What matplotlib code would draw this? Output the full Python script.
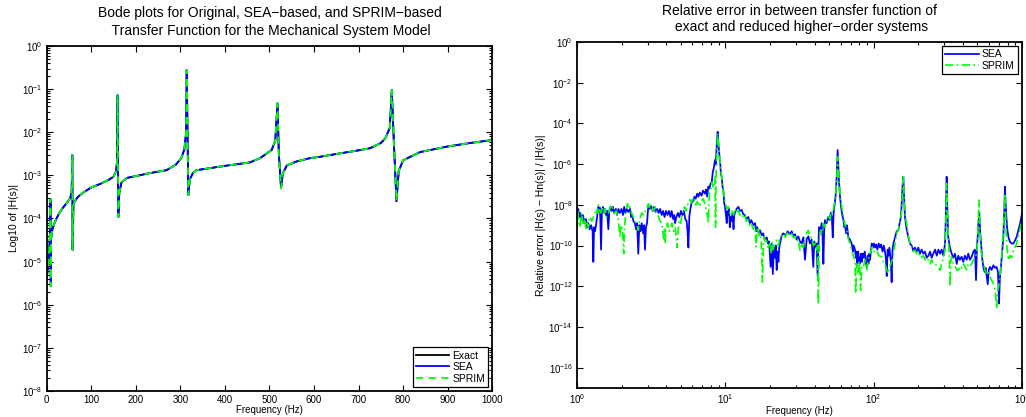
import matplotlib
matplotlib.use('Agg')
import matplotlib.pyplot as plt
import matplotlib.ticker as mticker
import numpy as np

plt.rcParams['font.family'] = ['Liberation Sans', 'DejaVu Sans']
plt.rcParams['mathtext.fontset'] = 'custom'
plt.rcParams['mathtext.rm'] = 'Liberation Sans'
plt.rcParams['mathtext.it'] = 'Liberation Sans:italic'

# ---- left panel: |H(s)| vs frequency (values given as log10 of magnitude)
bode_freq_hz = [0, 3, 6, 7.5, 8.5, 9.2, 10, 13, 17, 22,
                28, 35, 42, 48, 53, 56, 57.5, 58.3, 60, 63,
                70, 82, 100, 120, 140, 150, 156, 158, 159.3, 160.7,
                163, 168, 180, 194, 230, 269, 290, 302, 309, 313,
                314.3, 317.8, 321, 328, 336, 400, 456, 479, 505, 513,
                518, 521, 526, 530, 539, 560, 591, 613, 658, 700,
                726, 750, 760, 770, 774.5, 779, 785, 790, 800, 838,
                900, 950, 1000]
exact_log10 = [-5.4, -5.1, -4.7, -4.3, -3.55, -5.57, -4.45, -4.25, -4.12, -4.0,
               -3.88, -3.77, -3.68, -3.6, -3.52, -3.4, -2.53, -4.73, -3.69, -3.6,
               -3.5, -3.4, -3.28, -3.2, -3.1, -3.03, -2.9, -2.65, -1.14, -3.97,
               -3.4, -3.16, -3.06, -3.03, -2.95, -2.88, -2.75, -2.6, -2.4, -2.0,
               -0.56, -3.46, -3.1, -2.95, -2.88, -2.78, -2.7, -2.6, -2.41, -2.2,
               -1.33, -2.5, -3.3, -2.95, -2.77, -2.68, -2.6, -2.57, -2.49, -2.42,
               -2.37, -2.25, -2.14, -1.9, -1.02, -2.2, -3.6, -2.9, -2.65, -2.46,
               -2.33, -2.25, -2.18]
# reduced models overlay the exact curve at this scale
sea_log10 = list(exact_log10)
sprim_log10 = list(exact_log10)

# ---- right panel: relative error (log10 of frequency, log10 of error)
sea_err_logf = [
    0.000, 0.008, 0.015, 0.022, 0.031, 0.040, 0.050, 0.060, 0.070, 0.076,
    0.085, 0.095, 0.105, 0.110, 0.115, 0.121, 0.128, 0.135, 0.144, 0.150,
    0.155, 0.162, 0.168, 0.175, 0.182, 0.189, 0.196, 0.203, 0.211, 0.218,
    0.226, 0.234, 0.242, 0.250, 0.262, 0.270, 0.279, 0.288, 0.300, 0.310,
    0.318, 0.326, 0.334, 0.345, 0.357, 0.365, 0.373, 0.380, 0.390, 0.398,
    0.405, 0.413, 0.420, 0.428, 0.436, 0.445, 0.452, 0.458, 0.465, 0.472,
    0.481, 0.490, 0.500, 0.510, 0.520, 0.530, 0.540, 0.550, 0.560, 0.571,
    0.580, 0.590, 0.600, 0.610, 0.620, 0.630, 0.638, 0.648, 0.655, 0.661,
    0.670, 0.680, 0.690, 0.700, 0.710, 0.720, 0.730, 0.739, 0.745, 0.751,
    0.757, 0.762, 0.772, 0.784, 0.792, 0.800, 0.810, 0.818, 0.828, 0.840,
    0.850, 0.863, 0.870, 0.878, 0.885, 0.893, 0.900, 0.908, 0.915, 0.922,
    0.930, 0.935, 0.940, 0.944, 0.948, 0.952, 0.957, 0.962, 0.966, 0.970,
    0.975, 0.981, 0.987, 0.992, 0.998, 1.004, 1.009, 1.015, 1.020, 1.025,
    1.030, 1.036, 1.043, 1.049, 1.055, 1.060, 1.065, 1.075, 1.088, 1.098,
    1.110, 1.120, 1.130, 1.142, 1.155, 1.165, 1.175, 1.188, 1.200, 1.208,
    1.215, 1.225, 1.234, 1.245, 1.255, 1.265, 1.279, 1.288, 1.295, 1.305,
    1.312, 1.320, 1.327, 1.335, 1.340, 1.346, 1.352, 1.358, 1.363, 1.369,
    1.380, 1.391, 1.405, 1.420, 1.433, 1.447, 1.458, 1.470, 1.480, 1.492,
    1.503, 1.515, 1.525, 1.537, 1.548, 1.560, 1.570, 1.582, 1.593, 1.600,
    1.610, 1.616, 1.622, 1.631, 1.640, 1.649, 1.655, 1.661, 1.667, 1.672,
    1.683, 1.694, 1.703, 1.710, 1.718, 1.724, 1.730, 1.735, 1.743, 1.751,
    1.757, 1.762, 1.766, 1.773, 1.780, 1.788, 1.796, 1.802, 1.807, 1.814,
    1.820, 1.829, 1.840, 1.852, 1.860, 1.865, 1.874, 1.880, 1.885, 1.890,
    1.895, 1.902, 1.908, 1.914, 1.920, 1.925, 1.930, 1.940, 1.947, 1.953,
    1.960, 1.965, 1.970, 1.975, 1.981, 1.987, 1.995, 2.003, 2.009, 2.017,
    2.025, 2.034, 2.043, 2.050, 2.060, 2.068, 2.076, 2.082, 2.088, 2.094,
    2.100, 2.106, 2.110, 2.116, 2.121, 2.127, 2.133, 2.144, 2.155, 2.166,
    2.175, 2.184, 2.190, 2.196, 2.200, 2.205, 2.211, 2.220, 2.234, 2.245,
    2.256, 2.267, 2.278, 2.290, 2.301, 2.312, 2.323, 2.335, 2.346, 2.357,
    2.369, 2.380, 2.391, 2.402, 2.414, 2.425, 2.436, 2.447, 2.458, 2.470,
    2.481, 2.487, 2.492, 2.497, 2.503, 2.514, 2.526, 2.537, 2.548, 2.560,
    2.570, 2.581, 2.593, 2.604, 2.615, 2.627, 2.638, 2.649, 2.661, 2.672,
    2.683, 2.690, 2.696, 2.701, 2.707, 2.712, 2.718, 2.724, 2.731, 2.739,
    2.748, 2.755, 2.762, 2.769, 2.776, 2.784, 2.795, 2.807, 2.818, 2.829,
    2.838, 2.845, 2.851, 2.858, 2.866, 2.874, 2.880, 2.885, 2.890, 2.899,
    2.909, 2.919, 2.930, 2.942, 2.953, 2.964, 2.975, 2.987, 3.000]
sea_err_log10 = [
    -8.5, -8.2, -8.6, -8.4, -8.7, -8.5, -8.9, -8.7, -9.1, -8.9,
    -9.2, -9.0, -9.3, -10.8, -9.1, -9.3, -9.0, -8.6, -8.1, -8.3,
    -8.15, -10.2, -8.3, -8.1, -8.4, -8.2, -8.5, -8.3, -9.2, -8.3,
    -8.1, -8.3, -8.1, -8.4, -8.2, -8.5, -8.2, -8.4, -8.2, -8.5,
    -8.1, -8.4, -8.2, -8.35, -8.2, -8.6, -8.5, -8.8, -8.9, -9.2,
    -8.9, -10.4, -9.0, -9.3, -8.9, -9.4, -9.0, -10.2, -9.1, -8.9,
    -8.0, -8.2, -8.05, -8.3, -8.1, -8.35, -8.2, -8.4, -8.2, -8.5,
    -8.3, -8.6, -8.3, -8.5, -8.3, -8.6, -8.3, -8.7, -8.5, -8.9,
    -8.6, -8.4, -8.6, -8.3, -8.5, -8.3, -8.7, -8.8, -9.3, -10.1,
    -8.6, -8.3, -7.9, -7.8, -7.6, -7.7, -7.45, -7.6, -7.4, -7.55,
    -7.3, -7.45, -7.25, -7.6, -7.1, -7.2, -6.95, -6.9, -6.4, -6.2,
    -5.8, -6.0, -5.3, -4.8, -4.41, -4.9, -5.3, -5.8, -6.0, -6.5,
    -6.6, -7.1, -7.3, -7.9, -8.1, -8.5, -8.9, -8.3, -8.5, -8.2,
    -9.1, -8.6, -8.8, -8.4, -9.2, -8.5, -8.4, -8.2, -8.1, -8.3,
    -8.25, -8.45, -8.5, -8.7, -8.6, -8.9, -8.75, -9.0, -8.9, -9.3,
    -9.1, -9.4, -9.25, -9.5, -9.4, -9.7, -9.6, -9.9, -9.8, -11.05,
    -9.9, -11.4, -10.1, -10.6, -10.0, -11.2, -10.3, -10.8, -10.1, -9.9,
    -9.5, -9.4, -9.5, -9.3, -9.45, -9.3, -9.5, -9.45, -9.7, -9.55,
    -9.8, -9.9, -9.6, -10.7, -9.7, -9.55, -9.9, -9.7, -11.05, -9.8,
    -10.1, -9.9, -11.5, -9.1, -9.3, -8.9, -9.5, -10.9, -9.0, -8.75,
    -8.9, -8.6, -8.75, -8.4, -8.6, -9.6, -8.4, -8.1, -7.6, -6.6,
    -5.31, -6.2, -6.8, -7.6, -8.1, -8.5, -8.75, -9.1, -9.0, -9.4,
    -9.0, -9.6, -9.7, -9.9, -10.3, -10.0, -10.2, -10.6, -10.3, -10.9,
    -10.3, -10.7, -10.9, -10.4, -10.8, -10.4, -10.6, -10.3, -10.8, -11.05,
    -10.5, -10.9, -10.4, -10.7, -10.3, -9.9, -10.1, -9.9, -10.1, -9.95,
    -10.2, -9.9, -10.1, -9.95, -10.3, -10.0, -10.3, -10.6, -11.5, -10.2,
    -10.5, -10.1, -10.4, -10.8, -11.8, -10.2, -9.9, -9.6, -9.3, -9.25,
    -8.9, -8.6, -7.8, -6.9, -6.62, -7.6, -8.6, -9.1, -9.6, -9.9,
    -10.0, -10.25, -10.1, -10.3, -10.1, -10.4, -10.2, -10.4, -10.3, -10.6,
    -10.5, -10.3, -10.6, -10.4, -10.2, -10.5, -10.2, -10.4, -10.2, -10.5,
    -9.9, -8.5, -6.62, -8.3, -9.6, -10.1, -10.4, -10.6, -10.4, -10.9,
    -10.5, -10.7, -10.55, -10.8, -10.5, -10.7, -10.4, -10.7, -10.55, -10.3,
    -10.2, -11.7, -10.1, -9.6, -8.8, -8.4, -9.3, -9.9, -10.6, -11.05,
    -11.3, -11.1, -11.5, -11.9, -11.2, -11.05, -11.2, -10.97, -11.1, -11.05,
    -11.3, -12.85, -11.6, -11.05, -10.3, -9.6, -8.5, -7.11, -8.0, -9.1,
    -9.6, -9.82, -9.9, -9.9, -9.75, -9.57, -9.25, -8.92, -8.43]

sprim_err_logf = [
    0.000, 0.006, 0.012, 0.020, 0.026, 0.031, 0.038, 0.045, 0.052, 0.060,
    0.068, 0.076, 0.083, 0.090, 0.100, 0.110, 0.120, 0.130, 0.137, 0.144,
    0.152, 0.160, 0.170, 0.180, 0.189, 0.198, 0.210, 0.220, 0.234, 0.245,
    0.255, 0.265, 0.279, 0.285, 0.290, 0.295, 0.300, 0.308, 0.315, 0.320,
    0.324, 0.332, 0.340, 0.348, 0.357, 0.368, 0.380, 0.390, 0.400, 0.407,
    0.413, 0.420, 0.428, 0.436, 0.448, 0.460, 0.470, 0.481, 0.490, 0.500,
    0.513, 0.526, 0.538, 0.550, 0.560, 0.571, 0.578, 0.585, 0.590, 0.594,
    0.600, 0.610, 0.620, 0.630, 0.640, 0.650, 0.661, 0.668, 0.675, 0.682,
    0.690, 0.698, 0.706, 0.715, 0.725, 0.735, 0.745, 0.755, 0.762, 0.772,
    0.780, 0.790, 0.800, 0.810, 0.818, 0.828, 0.838, 0.850, 0.860, 0.870,
    0.878, 0.885, 0.890, 0.895, 0.902, 0.910, 0.918, 0.925, 0.930, 0.934,
    0.938, 0.942, 0.948, 0.953, 0.957, 0.962, 0.966, 0.970, 0.975, 0.981,
    0.987, 0.993, 1.000, 1.010, 1.020, 1.030, 1.043, 1.055, 1.065, 1.076,
    1.088, 1.098, 1.110, 1.120, 1.130, 1.142, 1.155, 1.165, 1.175, 1.188,
    1.200, 1.207, 1.214, 1.220, 1.228, 1.234, 1.242, 1.250, 1.256, 1.262,
    1.270, 1.279, 1.290, 1.300, 1.306, 1.312, 1.322, 1.332, 1.346, 1.358,
    1.369, 1.380, 1.391, 1.405, 1.420, 1.433, 1.447, 1.458, 1.470, 1.480,
    1.492, 1.503, 1.515, 1.525, 1.537, 1.548, 1.560, 1.570, 1.582, 1.593,
    1.605, 1.615, 1.622, 1.627, 1.633, 1.642, 1.650, 1.661, 1.672, 1.683,
    1.694, 1.705, 1.715, 1.725, 1.735, 1.743, 1.750, 1.757, 1.763, 1.773,
    1.785, 1.796, 1.807, 1.818, 1.830, 1.841, 1.852, 1.863, 1.874, 1.879,
    1.885, 1.891, 1.897, 1.904, 1.912, 1.920, 1.930, 1.942, 1.953, 1.964,
    1.975, 1.991, 2.003, 2.020, 2.035, 2.054, 2.065, 2.076, 2.088, 2.099,
    2.110, 2.121, 2.132, 2.144, 2.155, 2.166, 2.175, 2.184, 2.190, 2.196,
    2.200, 2.206, 2.212, 2.222, 2.234, 2.245, 2.256, 2.267, 2.279, 2.290,
    2.301, 2.312, 2.324, 2.335, 2.346, 2.357, 2.369, 2.380, 2.391, 2.402,
    2.414, 2.425, 2.436, 2.447, 2.458, 2.470, 2.481, 2.487, 2.492, 2.497,
    2.503, 2.509, 2.515, 2.520, 2.526, 2.537, 2.548, 2.560, 2.571, 2.582,
    2.593, 2.604, 2.616, 2.627, 2.638, 2.649, 2.661, 2.672, 2.683, 2.694,
    2.700, 2.705, 2.710, 2.716, 2.724, 2.737, 2.751, 2.762, 2.773, 2.784,
    2.795, 2.807, 2.818, 2.824, 2.829, 2.835, 2.845, 2.852, 2.863, 2.872,
    2.880, 2.885, 2.890, 2.896, 2.908, 2.918, 2.930, 2.942, 2.953, 2.964,
    2.975, 2.987, 3.000]
sprim_err_log10 = [
    -9.1, -8.3, -8.9, -9.1, -8.6, -8.4, -8.8, -9.0, -8.7, -9.25,
    -8.9, -9.1, -8.7, -8.6, -8.8, -8.6, -8.4, -8.2, -8.4, -8.0,
    -8.3, -8.4, -8.1, -8.4, -8.2, -8.6, -8.5, -8.2, -8.0, -8.3,
    -8.4, -8.3, -8.75, -9.3, -9.6, -9.1, -9.0, -9.4, -10.4, -9.2,
    -8.75, -8.3, -7.95, -8.2, -8.1, -8.4, -8.6, -8.8, -8.9, -9.1,
    -9.25, -8.8, -8.6, -8.4, -8.5, -8.3, -8.2, -7.95, -8.2, -8.0,
    -8.3, -8.1, -8.4, -8.6, -8.8, -8.9, -9.3, -9.7, -9.2, -9.9,
    -9.2, -8.9, -9.3, -9.2, -8.9, -9.3, -9.1, -9.5, -10.1, -9.2,
    -8.75, -8.9, -8.6, -8.3, -8.1, -8.3, -8.0, -7.9, -7.75, -7.9,
    -7.65, -7.7, -8.0, -7.85, -7.95, -8.1, -7.8, -7.7, -7.9, -8.2,
    -8.5, -8.9, -7.8, -7.4, -7.2, -6.9, -7.1, -6.8, -6.6, -9.1,
    -6.3, -5.6, -4.49, -4.9, -5.2, -5.7, -6.0, -6.4, -6.6, -7.0,
    -7.44, -7.7, -7.9, -8.2, -8.1, -8.4, -8.26, -8.5, -8.2, -8.4,
    -8.26, -8.5, -8.43, -8.6, -8.5, -8.8, -8.75, -9.0, -8.9, -9.2,
    -9.08, -10.07, -9.2, -9.1, -9.5, -9.41, -9.8, -11.8, -10.0, -9.57,
    -9.9, -9.8, -10.1, -9.9, -10.4, -9.82, -10.2, -9.9, -9.74, -10.0,
    -9.6, -9.5, -9.41, -9.6, -9.3, -9.5, -9.41, -9.6, -9.57, -9.8,
    -9.7, -10.23, -9.9, -10.1, -9.57, -9.4, -9.25, -9.6, -9.6, -10.0,
    -9.9, -10.3, -10.0, -12.9, -9.8, -9.25, -9.4, -8.92, -9.1, -8.8,
    -8.59, -8.7, -8.3, -8.4, -7.93, -7.5, -6.9, -5.64, -6.6, -7.44,
    -8.1, -8.59, -9.0, -9.25, -9.7, -9.9, -10.23, -10.5, -10.72, -12.36,
    -10.9, -11.4, -11.21, -10.8, -12.2, -11.0, -11.05, -10.7, -11.2, -10.72,
    -10.4, -10.07, -10.3, -10.23, -10.5, -10.56, -10.8, -10.89, -11.2, -11.38,
    -11.0, -10.8, -10.56, -9.9, -9.41, -9.2, -9.0, -8.75, -8.0, -7.0,
    -6.62, -7.8, -8.6, -8.9, -9.5, -9.9, -10.1, -10.3, -10.23, -10.4,
    -10.3, -10.6, -10.56, -10.5, -10.7, -10.6, -10.72, -10.9, -10.7, -10.9,
    -10.89, -11.0, -11.1, -11.21, -10.9, -10.6, -10.23, -8.6, -6.95, -8.4,
    -9.57, -10.4, -12.03, -10.8, -10.56, -10.9, -11.0, -11.2, -11.21, -11.0,
    -11.1, -10.9, -11.05, -11.2, -10.9, -11.0, -10.89, -10.7, -10.6, -10.39,
    -9.8, -8.8, -7.77, -9.2, -10.23, -10.8, -11.21, -11.4, -11.3, -11.54,
    -11.7, -11.87, -12.2, -12.6, -13.1, -12.3, -11.87, -11.5, -10.56, -9.5,
    -8.4, -7.44, -8.5, -9.9, -10.72, -10.5, -10.6, -10.23, -10.1, -9.9,
    -9.57, -9.2, -8.75]


def style_axes(ax):
    ax.tick_params(which='both', direction='in', top=True, right=True,
                   labelsize=7, pad=3, width=0.8)
    ax.tick_params(which='major', length=4.5)
    ax.tick_params(which='minor', length=2.5)
    for sp in ax.spines.values():
        sp.set_linewidth(1.3)


fig = plt.figure(figsize=(10.26, 4.17), dpi=100)

# left: bode magnitude
ax1 = fig.add_axes([0.0455, 0.0624, 0.4343, 0.8273])
ax1.semilogy(bode_freq_hz, 10.0 ** np.array(exact_log10), color='black', lw=1.3, label='Exact')
ax1.semilogy(bode_freq_hz, 10.0 ** np.array(sea_log10), color='blue', lw=1.3, label='SEA')
ax1.semilogy(bode_freq_hz, 10.0 ** np.array(sprim_log10), color='#00ff00', lw=1.3,
             ls=(0, (4, 3)), label='SPRIM')
ax1.set_xlim(0, 1000)
ax1.set_ylim(1e-8, 1)
ax1.set_xticks(np.arange(0, 1001, 100))
ax1.yaxis.set_major_locator(mticker.LogLocator(base=10, numticks=20))
ax1.yaxis.set_minor_locator(mticker.LogLocator(base=10, subs=np.arange(2, 10), numticks=20))
style_axes(ax1)
ax1.set_xlabel('Frequency (Hz)', fontsize=7, labelpad=0)
ax1.set_ylabel('Log10 of |H(s)|', fontsize=7.5, labelpad=2)
ax1.set_title('Bode plots for Original, SEA\u2212based, and SPRIM\u2212based\n'
              ' Transfer Function for the Mechanical System Model',
              fontsize=10, pad=8, linespacing=1.35)
leg1 = ax1.legend(loc='lower right', fontsize=7.5, fancybox=False, edgecolor='black',
                  framealpha=1, handlelength=3.2, borderpad=0.3, labelspacing=0.15,
                  handletextpad=0.3, borderaxespad=0.4)
leg1.get_frame().set_linewidth(0.9)

# right: relative error
ax2 = fig.add_axes([0.5624, 0.0695, 0.4337, 0.8298])
ax2.loglog(10.0 ** np.array(sea_err_logf), 10.0 ** np.array(sea_err_log10),
           color='blue', lw=1.25, label='SEA')
ax2.loglog(10.0 ** np.array(sprim_err_logf), 10.0 ** np.array(sprim_err_log10),
           color='#00ff00', lw=1.2, ls=(0, (5, 2, 1, 2)), label='SPRIM')
ax2.set_xlim(1, 1000)
ax2.set_ylim(1e-17, 1)
ax2.set_yticks([10.0 ** -k for k in range(0, 17, 2)])
ax2.yaxis.set_minor_locator(mticker.NullLocator())
ax2.yaxis.set_major_formatter(mticker.LogFormatterSciNotation())
style_axes(ax2)
ax2.set_xlabel('Frequency (Hz)', fontsize=7, labelpad=0)
ax2.set_ylabel('Relative error |H(s) \u2212 Hn(s)| / |H(s)|', fontsize=7.5, labelpad=2)
ax2.set_title('Relative error in between transfer function of\n'
              ' exact and reduced higher\u2212order systems',
              fontsize=10, pad=8, linespacing=1.2)
leg2 = ax2.legend(loc='upper right', fontsize=7.5, fancybox=False, edgecolor='black',
                  framealpha=1, handlelength=3.2, borderpad=0.3, labelspacing=0.15,
                  handletextpad=0.3, borderaxespad=0.4)
leg2.get_frame().set_linewidth(0.9)

fig.savefig('out.png', dpi=100)
